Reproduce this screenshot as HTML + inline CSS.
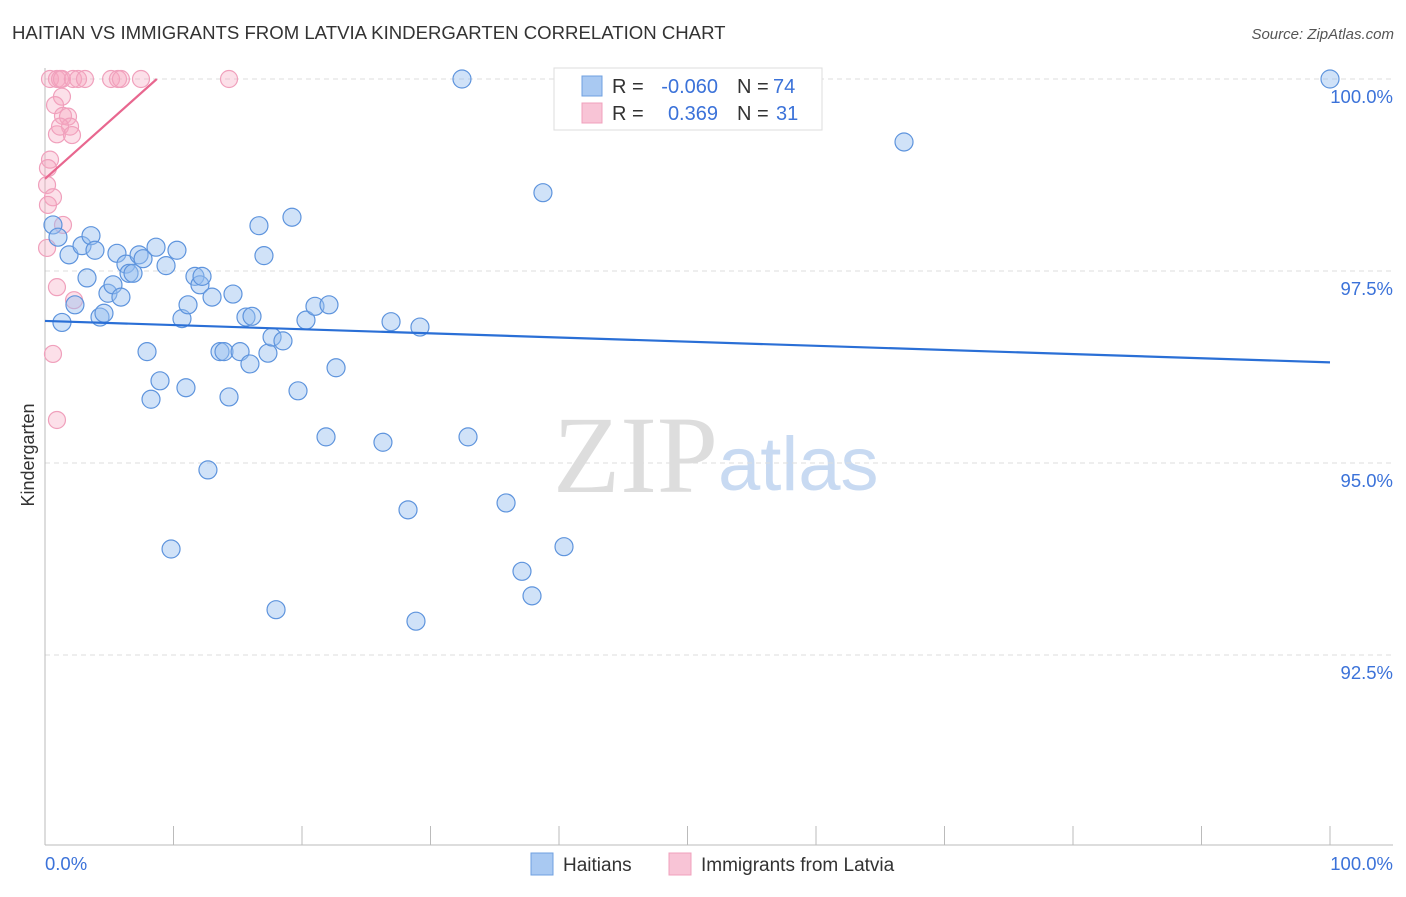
<!DOCTYPE html>
<html><head><meta charset="utf-8"><style>
body{margin:0;background:#fff;font-family:"Liberation Sans",sans-serif}
svg text{font-family:"Liberation Sans",sans-serif}
</style></head><body>
<svg id="c" width="1406" height="892" xmlns="http://www.w3.org/2000/svg">
<text x="12" y="39" font-size="18.6" fill="#333">HAITIAN VS IMMIGRANTS FROM LATVIA KINDERGARTEN CORRELATION CHART</text>
<text x="1394" y="39" font-size="15" fill="#555" font-style="italic" text-anchor="end">Source: ZipAtlas.com</text>
<text x="553" y="492" font-size="110" fill="#ddd" style="font-family:'Liberation Serif',serif">ZIP</text>
<text x="718" y="490" font-size="76" fill="#c8daf2">atlas</text>
<g id="grid"></g><g id="axes"></g><g id="pts"></g><g id="lines"></g>
<text x="34" y="455" font-size="18" fill="#333" transform="rotate(-90 34 455)" text-anchor="middle">Kindergarten</text>
<g>
<rect x="554" y="68" width="268" height="62" fill="#fff" stroke="#ddd"/>
<rect x="582" y="76" width="20" height="20" fill="#a9c9f2" stroke="#6fa0e0"/>
<rect x="582" y="103" width="20" height="20" fill="#f8c4d6" stroke="#f0a0bc"/>
<text x="612" y="93" font-size="20" fill="#333">R = </text><text x="718" y="93" font-size="20" fill="#3b72d9" text-anchor="end">-0.060</text>
<text x="737" y="93" font-size="20" fill="#333">N = </text><text x="773" y="93" font-size="20" fill="#3b72d9">74</text>
<text x="612" y="120" font-size="20" fill="#333">R = </text><text x="718" y="120" font-size="20" fill="#3b72d9" text-anchor="end">0.369</text>
<text x="737" y="120" font-size="20" fill="#333">N = </text><text x="776" y="120" font-size="20" fill="#3b72d9">31</text>
</g>
<g>
<rect x="531" y="853" width="22" height="22" fill="#a9c9f2" stroke="#6fa0e0"/>
<text x="563" y="871" font-size="19" fill="#333">Haitians</text>
<rect x="669" y="853" width="22" height="22" fill="#f8c4d6" stroke="#f0a0bc"/>
<text x="701" y="871" font-size="19" fill="#333">Immigrants from Latvia</text>
</g>
</svg>
<script>
const blueX=[0.62,1.01,1.32,1.87,2.33,2.88,3.27,3.58,3.89,4.28,4.59,4.90,5.29,5.60,5.91,6.30,6.54,6.85,7.32,7.63,7.94,8.25,8.64,8.95,9.42,9.81,10.27,10.66,10.97,11.13,11.67,12.06,12.22,12.68,13.00,13.62,13.93,14.32,14.63,15.18,15.64,15.95,16.11,16.65,17.04,17.35,17.67,17.98,18.52,19.22,19.69,20.31,21.01,21.87,22.10,22.65,26.30,26.93,28.25,28.87,29.18,32.45,32.92,35.88,37.12,37.90,38.75,40.39,66.85,100];
const blueY=[98.10,97.94,96.83,97.71,97.06,97.83,97.41,97.96,97.77,96.90,96.95,97.21,97.32,97.73,97.16,97.59,97.47,97.47,97.71,97.66,96.45,95.83,97.81,96.07,97.57,93.88,97.77,96.88,95.98,97.06,97.43,97.32,97.43,94.91,97.16,96.45,96.45,95.86,97.20,96.45,96.90,96.29,96.91,98.09,97.70,96.43,96.64,93.09,96.59,98.20,95.94,96.86,97.04,95.34,97.06,96.24,95.27,96.84,94.39,92.94,96.77,100,95.34,94.48,93.59,93.27,98.52,93.91,99.18,100];
const pinkX=[0.39,0.93,1.17,1.32,2.18,2.57,3.11,5.14,5.68,5.91,7.47,14.32,1.32,0.78,1.40,1.79,1.95,0.93,1.17,2.10,0.39,0.23,0.16,0.62,0.23,1.40,0.16,0.93,2.26,0.62,0.93];
const pinkY=[100,100,100,100,100,100,100,100,100,100,100,100,99.77,99.66,99.52,99.51,99.38,99.28,99.38,99.27,98.95,98.84,98.62,98.46,98.36,98.10,97.80,97.29,97.12,96.42,95.56];
const yTicks=[100,97.5,95,92.5];
const yTickLabels=["100.0%","97.5%","95.0%","92.5%"];
const xTicks=[0,10,20,30,40,50,60,70,80,90,100];
const blueTrend=[96.85,96.31];
const pinkTrend=[98.70,100,8.7];
const NS='http://www.w3.org/2000/svg';
const X=v=>45+v*12.85, Y=v=>79+(100-v)*76.8;
function mk(p,t,a){const e=document.createElementNS(NS,t);for(const k in a)e.setAttribute(k,a[k]);p.appendChild(e);return e;}
const grid=document.getElementById('grid'),axes=document.getElementById('axes'),pts=document.getElementById('pts'),lines=document.getElementById('lines');
yTicks.forEach((t,i)=>{
 const l=mk(grid,'line',{x1:45,x2:1393,y1:Y(t),y2:Y(t),stroke:'#ddd','stroke-dasharray':'5,4'});
 
 
 const tx=mk(axes,'text',{x:1393,y:Y(t)+24,'font-size':18.5,fill:'#3b72d9','text-anchor':'end'});tx.textContent=yTickLabels[i];
 
 
});
const ax=mk(axes,'line',{x1:45,x2:1393,y1:845,y2:845,stroke:'#bbb'});


const ay=mk(axes,'line',{x1:45,x2:45,y1:68,y2:845,stroke:'#bbb'});


xTicks.forEach(t=>{const l=mk(axes,'line',{x1:X(t),x2:X(t),y1:826,y2:845,stroke:'#bbb'});
 
 });
const x0=mk(axes,'text',{x:45,y:870,'font-size':18.5,fill:'#3b72d9'});x0.textContent='0.0%';


const x1=mk(axes,'text',{x:1393,y:870,'font-size':18.5,fill:'#3b72d9','text-anchor':'end'});x1.textContent='100.0%';


pinkX.forEach((v,i)=>{const c=mk(pts,'circle',{cx:X(v),cy:Y(pinkY[i]),r:8.5,fill:'rgba(245,165,192,0.35)',stroke:'#f0a0bc','stroke-width':1.2});
 
 });
blueX.forEach((v,i)=>{const c=mk(pts,'circle',{cx:X(v),cy:Y(blueY[i]),r:9,fill:'rgba(150,190,240,0.45)',stroke:'#5e94dd','stroke-width':1.2});
 
 });
const bl=mk(lines,'line',{x1:X(0),y1:Y(blueTrend[0]),x2:X(100),y2:Y(blueTrend[1]),stroke:'#2a6fd6','stroke-width':2.2});


const pl=mk(lines,'line',{x1:X(0),y1:Y(pinkTrend[0]),x2:X(pinkTrend[2]),y2:Y(pinkTrend[1]),stroke:'#e8678f','stroke-width':2.2});


</script>
</body></html>
